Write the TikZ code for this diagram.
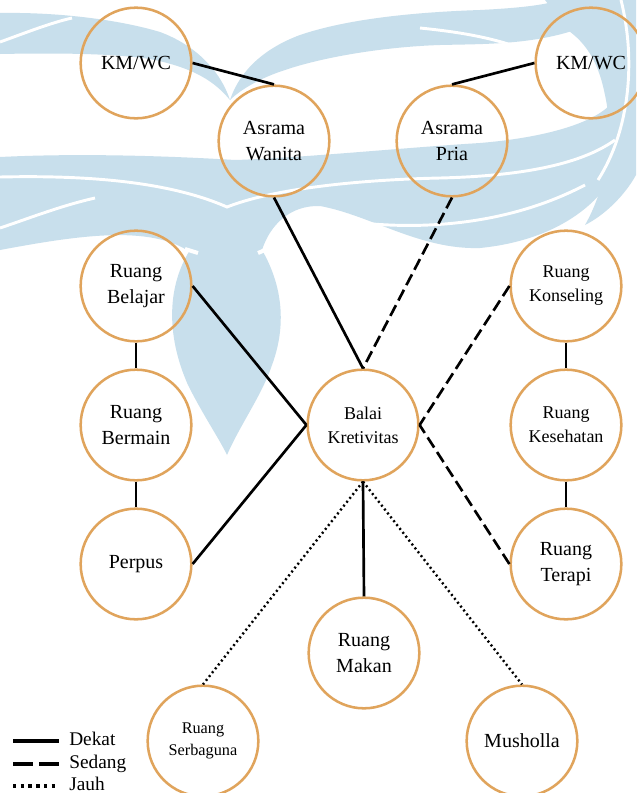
\documentclass[tikz,border=0pt]{standalone}
\usepackage{fontspec}
\setmainfont{Liberation Serif}
\definecolor{roomc}{RGB}{224,164,92}
\definecolor{wmc}{RGB}{200,223,236}
\begin{document}
\begin{tikzpicture}[x=0.75pt,y=-0.75pt,
  room/.style={circle, draw=roomc, line width=1.9pt, minimum size=83pt, inner sep=0pt, align=center, font=\fontsize{15}{20}\selectfont},
  smallroom/.style={room, font=\fontsize{13.5}{18}\selectfont},
  tinyroom/.style={room, font=\fontsize{12.2}{16.5}\selectfont},
  dekat/.style={line width=2pt, draw=black},
  sedang/.style={line width=2pt, draw=black, dash pattern=on 9pt off 4pt},
  jauh/.style={line width=1.8pt, draw=black, dash pattern=on 1.5pt off 2.2pt},
  wm/.style={fill=wmc, draw=none},
  wml/.style={draw=white, line width=2.2pt},
  legtext/.style={anchor=mid west, inner sep=0pt, font=\fontsize{14.5}{17}\selectfont}]
\useasboundingbox (0,0) rectangle (636,793);
\fill[white] (0,0) rectangle (636,793);
% ---- watermark ----
% upper-left wing
\fill[wm] (0,13) .. controls (60,12) and (120,20) .. (160,32) .. controls (195,45) and (220,70) .. (230,100) .. controls (215,82) and (195,68) .. (150,59) .. controls (110,53) and (50,53) .. (0,54) -- cycle;
% upper centre band
\fill[wm] (230,100) .. controls (240,70) and (265,48) .. (300,35) .. controls (350,18) and (420,12) .. (480,10) .. controls (520,8) and (545,5) .. (560,0) -- (575,0) -- (575,30) .. controls (530,45) and (480,44) .. (440,45) .. controls (380,47) and (320,58) .. (285,70) .. controls (260,78) and (240,90) .. (230,100) -- cycle;
% right crescent
\fill[wm] (545,0) -- (636,0) -- (636,175) .. controls (625,195) and (605,215) .. (585,225) .. controls (605,190) and (615,140) .. (605,95) .. controls (598,60) and (585,40) .. (560,25) .. controls (555,15) and (550,6) .. (545,0) -- cycle;
% lower bands
\fill[wm] (0,157) .. controls (80,153) and (170,156) .. (235,160) .. controls (300,158) and (400,148) .. (480,143) .. controls (540,138) and (590,125) .. (610,105) -- (625,150) .. controls (610,200) and (560,240) .. (480,248) .. controls (420,250) and (370,215) .. (320,206) .. controls (290,205) and (270,225) .. (262,250) -- (190,252) .. controls (150,225) and (80,235) .. (0,250) -- cycle;
% teardrop
\fill[wm] (190,250) .. controls (165,290) and (168,340) .. (188,385) .. controls (203,415) and (220,440) .. (227,455) .. controls (240,425) and (262,395) .. (272,365) .. controls (285,330) and (285,290) .. (262,250) -- cycle;
% white stripes
\draw[wml] (0,42) .. controls (25,33) and (50,23) .. (72,18);
\draw[wml] (420,28) .. controls (460,32) and (495,38) .. (525,50);
\draw[wml] (621,0) .. controls (636,60) and (630,130) .. (598,180);
\draw[wml] (0,177) .. controls (90,175) and (170,182) .. (227,207) .. controls (270,190) and (350,180) .. (440,178) .. controls (520,176) and (580,165) .. (615,140);
\draw[wml] (0,228) .. controls (30,218) and (60,206) .. (95,198);
\draw[wml] (300,212) .. controls (360,228) and (480,240) .. (585,185);
\draw[wml, line width=3pt] (185,249) -- (198,253);
\draw[wml, line width=3pt] (258,253) -- (272,247);
% ---- rooms ----
\node[room] (kml) at (136,63) {KM/WC};
\node[room] (aw) at (274,141) {Asrama\\Wanita};
\node[room] (ap) at (452,141) {Asrama\\Pria};
\node[room] (kmr) at (591,63) {KM/WC};
\node[room] (belajar) at (136,286) {Ruang\\Belajar};
\node[room] (bermain) at (136,425) {Ruang\\Bermain};
\node[room] (perpus) at (136,564) {Perpus};
\node[smallroom] (balai) at (363,425) {Balai\\Kretivitas};
\node[smallroom] (konseling) at (566,286) {Ruang\\Konseling};
\node[smallroom] (kesehatan) at (566,425) {Ruang\\Kesehatan};
\node[room] (terapi) at (566,564) {Ruang\\Terapi};
\node[room] (makan) at (364,653) {Ruang\\Makan};
\node[tinyroom] (serba) at (203,741) {Ruang\\Serbaguna};
\node[room] (mush) at (522,741) {Musholla};
% ---- connectors ----
\draw[dekat] (kml.east) -- (aw.north);
\draw[dekat] (ap.north) -- (kmr.west);
\draw[dekat] (aw.south) -- (balai.north);
\draw[sedang] (ap.south) -- (balai.north);
\draw[dekat] (belajar.east) -- (balai.west);
\draw[dekat] (perpus.east) -- (balai.west);
\draw[dekat] (belajar) -- (bermain);
\draw[dekat] (bermain) -- (perpus);
\draw[sedang] (konseling.west) -- (balai.east);
\draw[sedang] (terapi.west) -- (balai.east);
\draw[dekat] (konseling) -- (kesehatan);
\draw[dekat] (kesehatan) -- (terapi);
\draw[dekat] (balai.south) -- (makan.north);
\draw[jauh] (balai.south) -- (serba.north);
\draw[jauh] (balai.south) -- (mush.north);
% ---- legend ----
\coordinate (l1a) at (13,741); \coordinate (l1b) at (59,741);
\coordinate (l2a) at (13,764); \coordinate (l2b) at (59,764);
\coordinate (l3a) at (13,786); \coordinate (l3b) at (59,786);
\draw[line width=3pt] (l1a) -- (l1b);
\draw[line width=3pt, dash pattern=on 15pt off 4.5pt] (l2a) -- (l2b);
\draw[line width=3pt, dash pattern=on 2.6pt off 3.2pt] (l3a) -- (l3b);
\node[legtext] (t1) at (69,742) {Dekat};
\node[legtext] (t2) at (69,765) {Sedang};
\node[legtext] (t3) at (69,787) {Jauh};
\end{tikzpicture}
\end{document}
